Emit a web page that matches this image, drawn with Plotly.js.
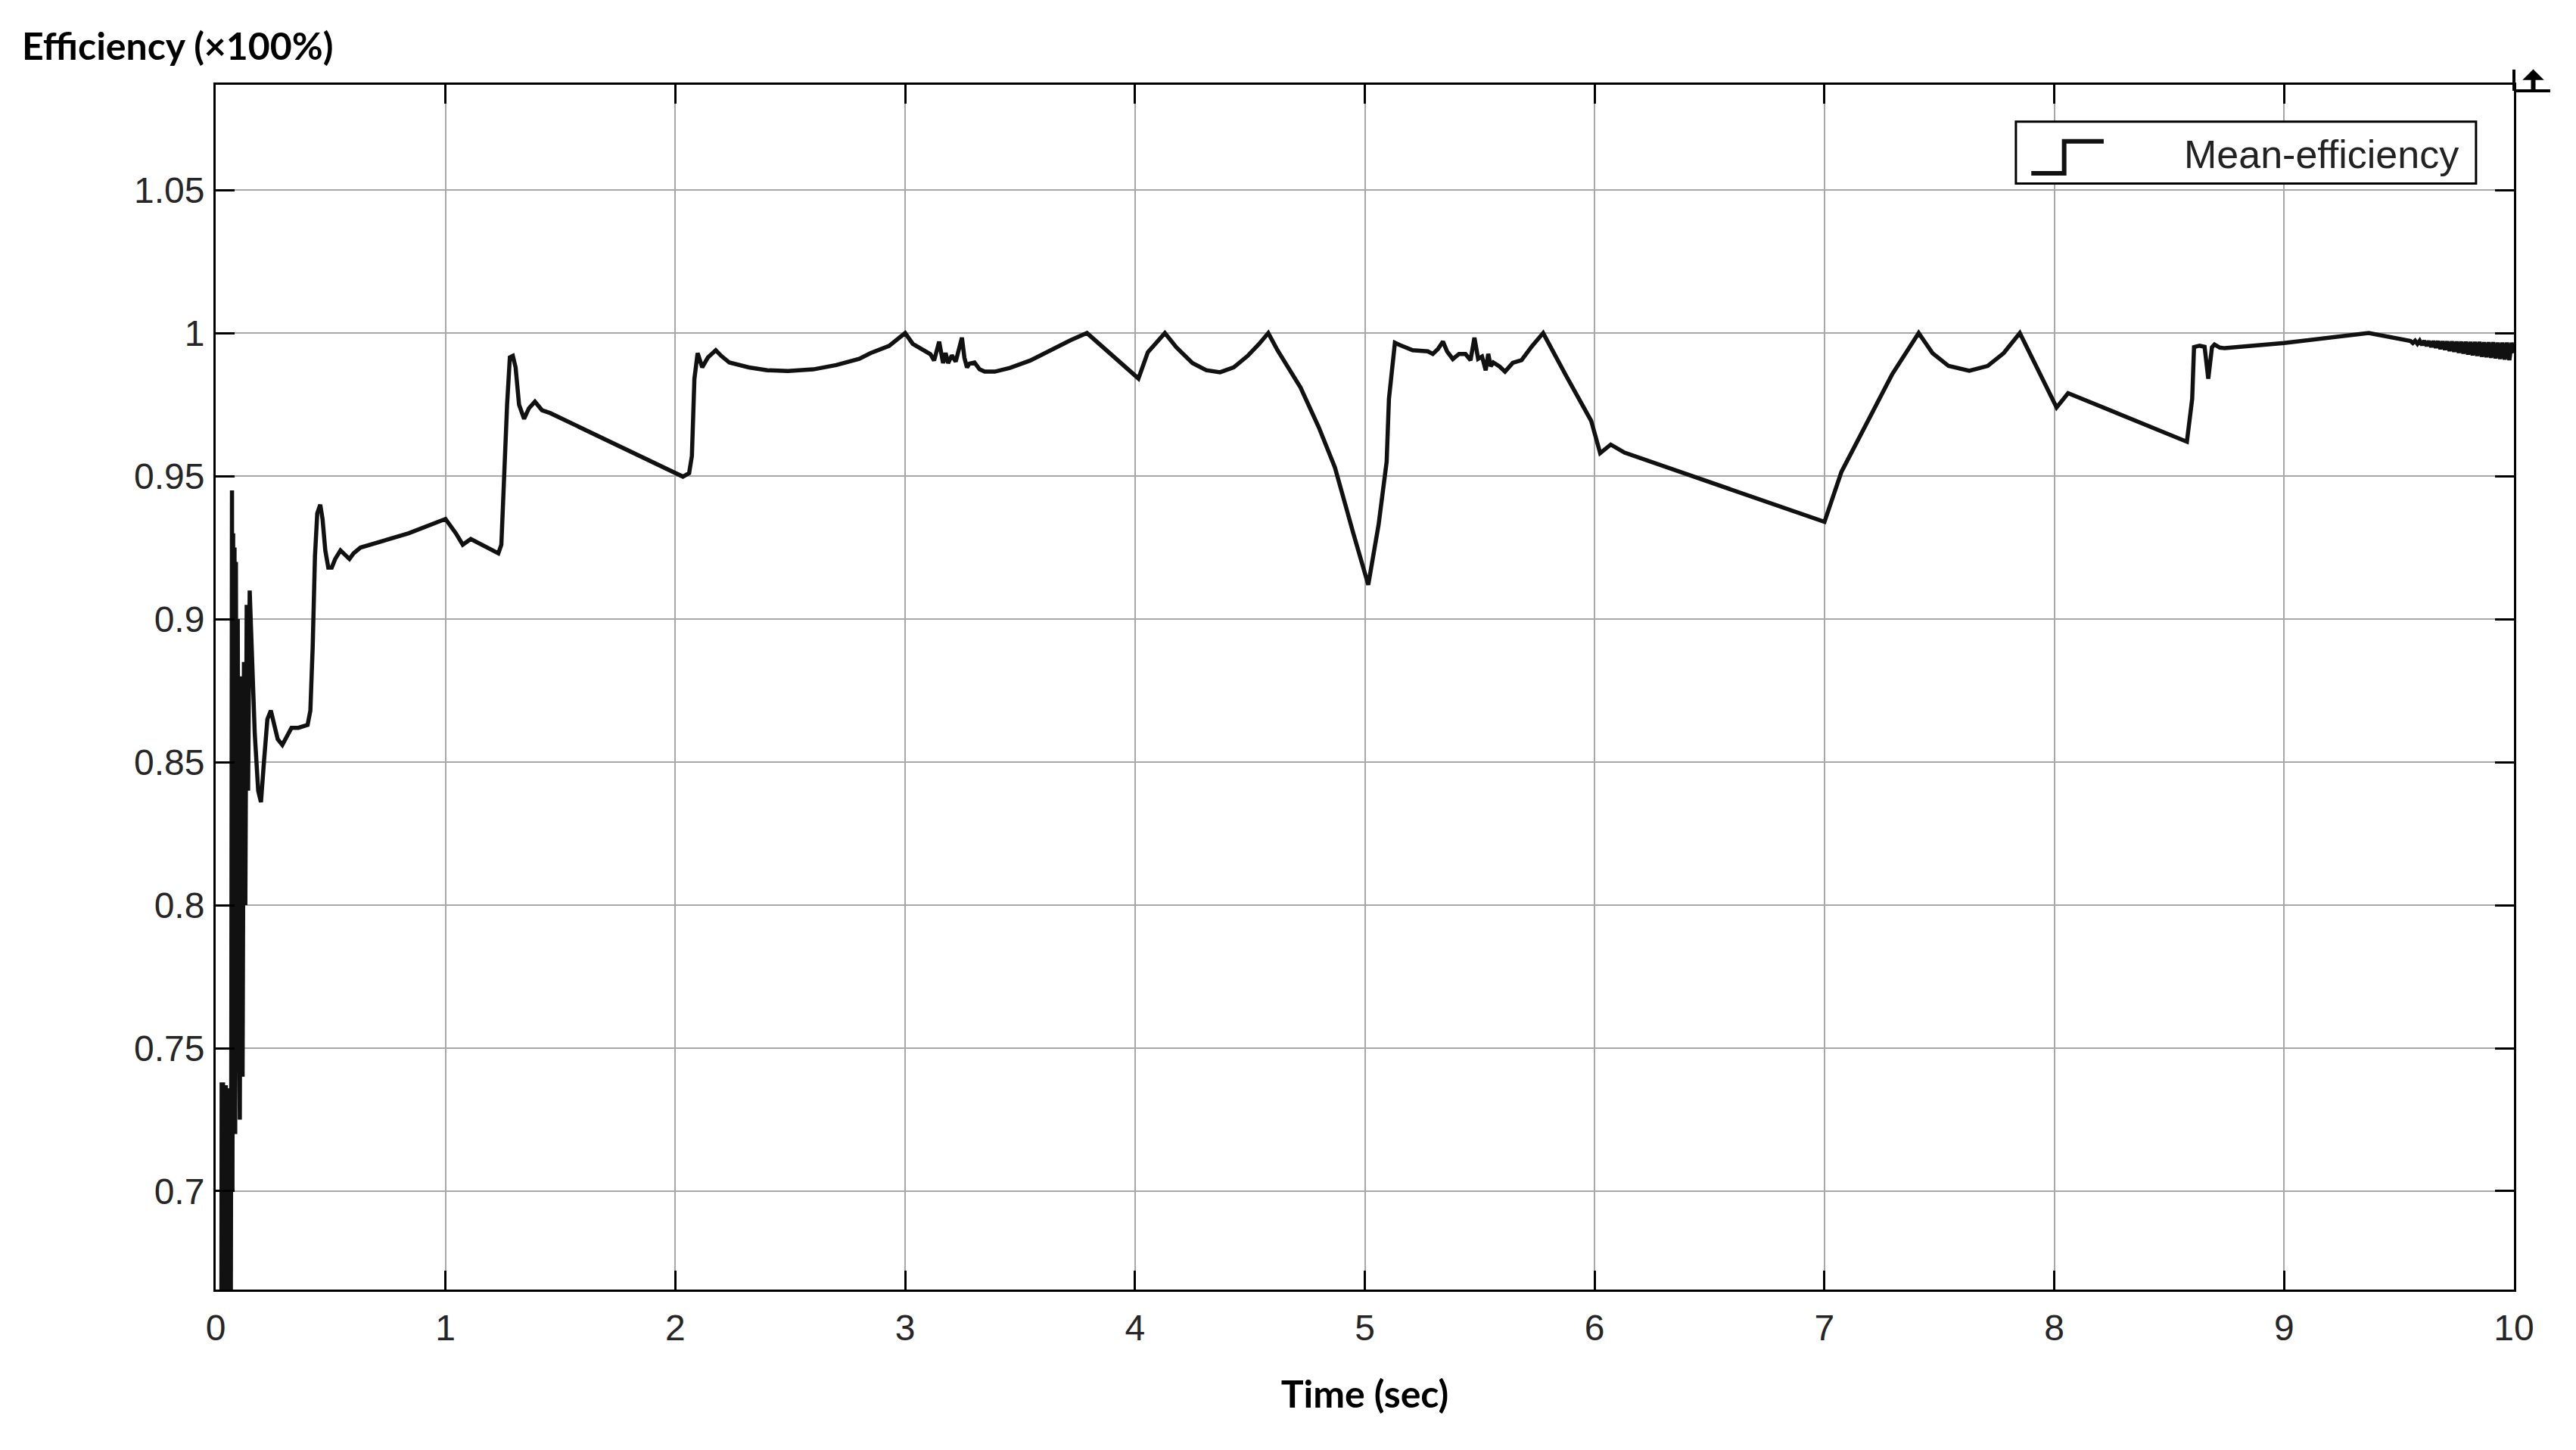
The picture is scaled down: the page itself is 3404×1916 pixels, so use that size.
<!DOCTYPE html>
<html>
<head>
<meta charset="utf-8">
<script src="https://cdn.plot.ly/plotly-3.0.1.min.js"></script>
<style>html,body{margin:0;padding:0;background:#fff;}#chart{width:3404px;height:1916px;}</style>
</head>
<body>
<div id="chart"></div>
<script>
// ---- data ----
const seriesName = "Mean-efficiency";
const xTitle = "Time (sec)";
const yTitle = "Efficiency (×100%)";

// start-up transient (0 - 0.21 s)
const earlyTime = [
  0.000, 0.024, 0.026, 0.029, 0.032, 0.035, 0.038, 0.041, 0.044, 0.047,
  0.050, 0.053, 0.056, 0.059, 0.062, 0.065, 0.068, 0.071, 0.073, 0.076,
  0.079, 0.082, 0.085, 0.088, 0.092, 0.096, 0.100, 0.105, 0.111, 0.117,
  0.123, 0.129, 0.135, 0.141, 0.148, 0.158, 0.170, 0.185, 0.197, 0.210
];
const earlyEff = [
  0.600, 0.600, 0.738, 0.620, 0.738, 0.620, 0.737, 0.620, 0.737, 0.620,
  0.736, 0.620, 0.736, 0.620, 0.735, 0.620, 0.750, 0.945, 0.700, 0.930,
  0.740, 0.925, 0.720, 0.920, 0.760, 0.900, 0.780, 0.725, 0.880, 0.740,
  0.885, 0.800, 0.905, 0.840, 0.910, 0.885, 0.860, 0.840, 0.836, 0.850
];

// main run (0.225 - 9.544 s)
const mainTime = [
  0.225, 0.240, 0.255, 0.270, 0.290, 0.310, 0.330, 0.360, 0.400, 0.412,
  0.422, 0.432, 0.442, 0.455, 0.465, 0.477, 0.490, 0.505, 0.520, 0.543,
  0.565, 0.582, 0.600, 0.630, 0.840, 1.000, 1.045, 1.075, 1.110, 1.230,
  1.243, 1.255, 1.268, 1.280, 1.293, 1.305, 1.320, 1.342, 1.363, 1.389,
  1.420, 1.456, 2.008, 2.033, 2.060, 2.072, 2.083, 2.097, 2.117, 2.142,
  2.176, 2.200, 2.235, 2.320, 2.400, 2.490, 2.600, 2.700, 2.800, 2.850,
  2.930, 3.000, 3.033, 3.061, 3.110, 3.126, 3.148, 3.165, 3.176, 3.187,
  3.203, 3.220, 3.231, 3.247, 3.258, 3.269, 3.280, 3.302, 3.324, 3.346,
  3.390, 3.456, 3.544, 3.632, 3.720, 3.791, 3.884, 4.015, 4.056, 4.130,
  4.180, 4.250, 4.310, 4.370, 4.430, 4.490, 4.540, 4.580, 4.620, 4.720,
  4.800, 4.870, 4.950, 5.015, 5.060, 5.095, 5.105, 5.120, 5.131, 5.153,
  5.208, 5.274, 5.296, 5.318, 5.340, 5.358, 5.383, 5.410, 5.438, 5.460,
  5.477, 5.493, 5.510, 5.526, 5.537, 5.548, 5.559, 5.586, 5.610, 5.644,
  5.682, 5.726, 5.776, 5.875, 5.985, 6.024, 6.070, 6.130, 7.000, 7.074,
  7.176, 7.294, 7.410, 7.470, 7.540, 7.630, 7.710, 7.780, 7.850, 8.010,
  8.060, 8.577, 8.600, 8.608, 8.632, 8.654, 8.670, 8.686, 8.697, 8.720,
  8.742, 9.000, 9.368, 9.544
];
const mainEff = [
  0.865, 0.868, 0.863, 0.858, 0.856, 0.859, 0.862, 0.862, 0.863, 0.868,
  0.890, 0.922, 0.937, 0.940, 0.935, 0.924, 0.918, 0.918, 0.921, 0.924,
  0.922, 0.921, 0.923, 0.925, 0.930, 0.935, 0.930, 0.926, 0.928, 0.923,
  0.926, 0.952, 0.975, 0.9915, 0.992, 0.988, 0.975, 0.970, 0.9737, 0.976,
  0.973, 0.972, 0.9507, 0.9498, 0.951, 0.957, 0.984, 0.993, 0.988, 0.9915,
  0.994, 0.992, 0.9897, 0.988, 0.987, 0.9867, 0.9873, 0.9888, 0.991, 0.993,
  0.9955, 1.000, 0.9962, 0.9948, 0.9926, 0.9904, 0.9970, 0.9895, 0.9930, 0.9895,
  0.9922, 0.9900, 0.9930, 0.9984, 0.9913, 0.9880, 0.9893, 0.9897, 0.9873, 0.9865,
  0.9865, 0.9878, 0.9904, 0.9940, 0.9975, 1.000, 0.9935, 0.9841, 0.9933, 1.000,
  0.995, 0.9895, 0.9870, 0.9863, 0.9880, 0.9920, 0.9962, 1.000, 0.994, 0.981,
  0.967, 0.953, 0.930, 0.912, 0.933, 0.955, 0.977, 0.990, 0.9966, 0.9958,
  0.9940, 0.9936, 0.9927, 0.9944, 0.9970, 0.9936, 0.9909, 0.9927, 0.9927, 0.9905,
  0.9984, 0.9910, 0.9918, 0.9870, 0.9927, 0.9884, 0.9897, 0.9883, 0.9865, 0.9896,
  0.9905, 0.9953, 1.000, 0.9852, 0.9693, 0.958, 0.961, 0.9582, 0.934, 0.9515,
  0.967, 0.9855, 1.000, 0.993, 0.9885, 0.9868, 0.9885, 0.993, 1.000, 0.974,
  0.979, 0.962, 0.977, 0.9951, 0.9956, 0.9952, 0.984, 0.9950, 0.9960, 0.9949,
  0.9947, 0.9965, 1.000, 0.9974
];

// ripple at the end (9.55 - 10 s)
const tailTime = [
  9.55, 9.56, 9.57, 9.58, 9.59, 9.60, 9.61, 9.62, 9.63, 9.64,
  9.65, 9.66, 9.67, 9.68, 9.69, 9.70, 9.71, 9.72, 9.73, 9.74,
  9.75, 9.76, 9.77, 9.78, 9.79, 9.80, 9.81, 9.82, 9.83, 9.84,
  9.85, 9.86, 9.87, 9.88, 9.89, 9.90, 9.91, 9.92, 9.93, 9.94,
  9.95, 9.96, 9.97, 9.98, 9.99, 10.00
];
const tailEff = [
  0.9972, 0.9965, 0.9973, 0.9962, 0.9973, 0.9958, 0.9973, 0.9955, 0.9972, 0.9951,
  0.9972, 0.9948, 0.9972, 0.9944, 0.9971, 0.9941, 0.9971, 0.9937, 0.9971, 0.9934,
  0.9970, 0.9931, 0.9970, 0.9928, 0.9970, 0.9925, 0.9969, 0.9922, 0.9969, 0.9920,
  0.9969, 0.9917, 0.9968, 0.9915, 0.9968, 0.9913, 0.9968, 0.9911, 0.9967, 0.9909,
  0.9967, 0.9907, 0.9967, 0.9905, 0.9966, 0.9930
];

const xTickVals = [0, 1, 2, 3, 4, 5, 6, 7, 8, 9, 10];
const xTickText = ["0", "1", "2", "3", "4", "5", "6", "7", "8", "9", "10"];
const yTickVals = [0.7, 0.75, 0.8, 0.85, 0.9, 0.95, 1.0, 1.05];
const yTickText = ["0.7", "0.75", "0.8", "0.85", "0.9", "0.95", "1", "1.05"];

// ---- styling ----
const tickFont = {family: "Liberation Sans, Arial, sans-serif", size: 48, color: "#262626"};
const titleFont = {family: "Lato, Liberation Sans, sans-serif", size: 50, color: "#000", weight: "bold"};

const axisCommon = {
  showline: true, linecolor: "#000", linewidth: 3, mirror: "allticks",
  ticks: "inside", ticklen: 25, tickwidth: 3, tickcolor: "#000",
  showgrid: true, gridcolor: "#a8a8a8", gridwidth: 2,
  zeroline: false, tickfont: tickFont, fixedrange: true
};

const trace = {
  type: "scatter", mode: "lines", name: seriesName,
  x: earlyTime.concat(mainTime, tailTime),
  y: earlyEff.concat(mainEff, tailEff),
  line: {color: "#111111", width: 5.5},
  showlegend: false, hoverinfo: "skip"
};

const layout = {
  width: 3404, height: 1916,
  margin: {l: 285, r: 82, t: 112, b: 212},
  paper_bgcolor: "#ffffff", plot_bgcolor: "#ffffff",
  showlegend: false,
  xaxis: Object.assign({}, axisCommon, {
    range: [0, 10], tickmode: "array", tickvals: xTickVals, ticktext: xTickText,
    ticklabelstandoff: 6,
    title: {text: xTitle, font: titleFont, standoff: 46}
  }),
  yaxis: Object.assign({}, axisCommon, {
    range: [0.6656, 1.0868], tickmode: "array", tickvals: yTickVals, ticktext: yTickText,
    ticklabelstandoff: 2
  }),
  annotations: [
    {text: yTitle, xref: "paper", yref: "paper", x: -285/3037 + 27/3037, y: 1 + 52/1591,
     xanchor: "left", yanchor: "middle", showarrow: false, font: titleFont},
    {text: seriesName, xref: "paper", yref: "paper", x: 0.9765, y: 0.9425,
     xanchor: "right", yanchor: "middle", showarrow: false,
     font: {family: "Liberation Sans, Arial, sans-serif", size: 52, color: "#222"}}
  ],
  shapes: [
    // legend box
    {type: "rect", xref: "paper", yref: "paper", x0: 0.7833, x1: 0.9835, y0: 0.9181, y1: 0.9694,
     line: {color: "#000", width: 3}, fillcolor: "#ffffff", layer: "above"},
    // legend step glyph
    {type: "path", xref: "paper", yref: "paper",
     path: "M 0.7900 0.9265 L 0.8043 0.9265 L 0.8043 0.9530 L 0.8215 0.9530",
     line: {color: "#111", width: 6}, layer: "above"},
    // corner icon (L with up arrow)
    {type: "line", xref: "paper", yref: "paper", x0: 1.0, x1: 1.0, y0: 0.995, y1: 1.0126,
     line: {color: "#000", width: 4}},
    {type: "line", xref: "paper", yref: "paper", x0: 1.0, x1: 1.0158, y0: 0.995, y1: 0.995,
     line: {color: "#000", width: 4}},
    {type: "line", xref: "paper", yref: "paper", x0: 1.0084, x1: 1.0084, y0: 0.995, y1: 1.006,
     line: {color: "#000", width: 6}},
    {type: "path", xref: "paper", yref: "paper",
     path: "M 1.0045 1.0045 L 1.0123 1.0045 L 1.0084 1.0120 Z",
     line: {color: "#000", width: 2}, fillcolor: "#000"}
  ]
};

Plotly.newPlot("chart", [trace], layout, {displayModeBar: false, staticPlot: true});
</script>
</body>
</html>
